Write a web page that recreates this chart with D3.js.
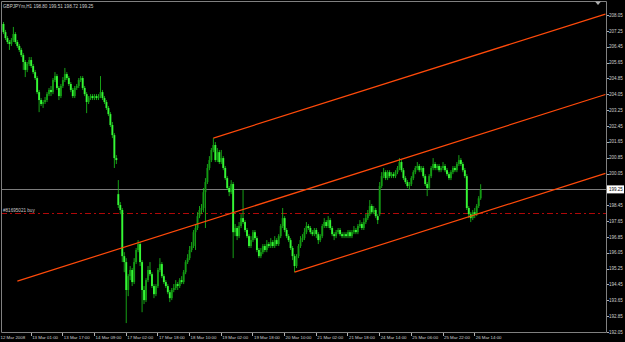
<!DOCTYPE html>
<html>
<head>
<meta charset="utf-8">
<script src="https://cdn.jsdelivr.net/npm/d3@7"></script>
<style>
  html, body { margin: 0; padding: 0; background: #000; }
  svg { display: block; }
  text { font-family: "Liberation Sans", Arial, sans-serif; }
</style>
</head>
<body>
<div id="chart"></div>
<script>
// GBPJPYm H1 candles with a price channel, 12 - 26 Mar 2008

const chartTitle = "GBPJPYm,H1  198.80 199.51 198.72 199.25";

// hourly bars
const opens = [
  207.30, 207.60, 207.19, 206.89, 206.69, 206.59, 206.79, 207.09, 206.69, 206.49,
  206.29, 206.03, 205.68, 205.28, 205.58, 205.78, 205.48, 205.17, 204.87, 204.16,
  203.76, 203.56, 203.66, 203.76, 204.06, 204.27, 204.16, 204.77, 204.97, 204.37,
  203.96, 204.47, 204.77, 205.07, 204.87, 204.57, 204.27, 203.96, 204.37, 204.47,
  204.77, 204.87, 204.37, 204.06, 203.66, 203.86, 203.96, 203.86, 203.96, 203.86,
  203.96, 204.16, 203.86, 203.66, 203.36, 203.05, 202.50, 201.99, 200.83, 199.01,
  198.46, 198.21, 195.88, 195.58, 194.17, 194.87, 195.18, 194.57, 195.58, 196.19,
  196.49, 195.58, 194.17, 193.66, 194.67, 195.18, 194.97, 194.37, 193.96, 194.37,
  195.18, 195.48, 194.87, 194.57, 194.37, 194.06, 193.76, 194.17, 194.27, 194.47,
  194.37, 194.67, 194.57, 195.07, 195.58, 195.78, 196.19, 196.39, 197.09, 197.30,
  197.90, 198.21, 198.31, 199.11, 199.62, 200.33, 200.73, 201.24, 201.49, 200.73,
  201.13, 200.63, 200.83, 200.33, 199.82, 199.32, 199.11, 199.52, 197.09, 197.30,
  196.89, 197.40, 197.80, 197.60, 197.20, 196.89, 196.39, 196.69, 197.09, 196.79,
  196.19, 195.88, 196.08, 196.39, 196.19, 196.49, 196.39, 196.59, 196.39, 196.69,
  196.49, 196.89, 197.40, 197.80, 197.20, 196.89, 196.69, 196.29, 195.88, 195.38,
  195.88, 196.39, 196.69, 196.79, 197.09, 197.40, 197.30, 197.09, 196.99, 197.20,
  196.99, 196.69, 196.89, 197.40, 197.60, 197.40, 197.70, 197.30, 196.99, 196.89,
  197.09, 197.20, 196.99, 196.89, 196.99, 196.89, 197.09, 196.89, 197.09, 197.20,
  197.09, 197.40, 197.50, 197.30, 197.60, 197.80, 198.00, 198.41, 198.10, 198.21,
  197.90, 198.00, 199.42, 199.92, 200.12, 199.82, 200.12, 199.92, 200.02, 199.92,
  200.12, 200.33, 200.63, 200.22, 199.82, 199.62, 199.42, 199.52, 199.82, 200.12,
  200.33, 200.43, 200.22, 200.33, 199.92, 199.52, 199.32, 199.92, 200.33, 200.53,
  200.33, 200.43, 200.22, 200.33, 200.43, 200.22, 200.02, 199.82, 200.12, 200.33,
  200.22, 200.53, 200.73, 200.53, 200.22, 199.92, 198.31, 198.00, 197.80, 198.10,
  198.00, 198.41, 198.80
];
const highs = [
  207.90, 207.70, 207.30, 206.99, 206.79, 206.89, 207.45, 207.19, 206.79, 206.59,
  206.39, 206.13, 205.78, 205.68, 205.93, 205.93, 205.58, 205.28, 204.97, 204.27,
  203.86, 203.76, 203.91, 204.16, 204.37, 204.47, 204.87, 205.17, 205.07, 204.47,
  204.57, 204.92, 205.38, 205.17, 204.97, 204.67, 204.37, 204.47, 204.57, 204.87,
  204.97, 204.97, 204.47, 204.16, 203.96, 204.06, 204.06, 204.06, 204.06, 204.06,
  204.97, 204.27, 203.96, 203.76, 203.46, 203.15, 202.65, 202.09, 200.98, 199.72,
  198.61, 198.31, 196.08, 195.78, 194.97, 195.38, 195.28, 195.78, 196.29, 196.69,
  196.59, 195.68, 194.37, 194.77, 195.38, 195.58, 195.07, 194.47, 194.47, 195.28,
  195.78, 195.58, 194.97, 194.67, 194.47, 194.17, 194.27, 194.47, 194.67, 194.57,
  194.77, 194.87, 195.18, 195.68, 195.98, 196.39, 196.59, 197.20, 197.50, 198.10,
  198.41, 198.51, 199.32, 199.82, 200.53, 200.93, 201.34, 201.84, 201.64, 201.34,
  201.24, 201.24, 200.93, 200.43, 199.92, 199.42, 199.72, 199.62, 197.50, 197.40,
  197.60, 198.00, 199.22, 197.70, 197.30, 196.99, 196.89, 197.20, 197.20, 196.89,
  196.29, 196.29, 196.49, 196.49, 196.69, 196.59, 196.79, 196.69, 196.89, 196.79,
  196.99, 197.50, 198.31, 197.90, 197.30, 196.99, 196.79, 196.39, 195.98, 195.98,
  196.49, 196.89, 196.99, 197.30, 197.60, 197.50, 197.40, 197.20, 197.30, 197.30,
  197.09, 196.99, 197.50, 197.80, 197.70, 197.90, 197.80, 197.40, 197.09, 197.20,
  197.30, 197.30, 197.09, 197.09, 197.09, 197.20, 197.20, 197.20, 197.40, 197.30,
  197.50, 197.70, 197.60, 197.80, 198.00, 198.21, 198.71, 198.51, 198.41, 198.31,
  198.00, 199.62, 200.12, 200.33, 200.22, 200.22, 200.22, 200.12, 200.12, 200.22,
  200.43, 200.83, 200.73, 200.33, 199.92, 199.72, 199.62, 199.92, 200.22, 200.43,
  200.63, 200.53, 200.43, 200.43, 200.02, 199.62, 200.02, 200.43, 200.83, 200.63,
  200.53, 200.53, 200.43, 200.63, 200.53, 200.33, 200.12, 200.22, 200.43, 200.43,
  200.63, 200.98, 200.83, 200.63, 200.33, 200.02, 198.41, 198.10, 198.21, 198.31,
  198.51, 198.91, 199.51
];
const lows = [
  207.19, 207.09, 206.79, 206.59, 206.29, 206.49, 206.69, 206.59, 206.39, 206.18,
  205.93, 205.28, 204.92, 205.17, 205.48, 205.38, 205.07, 204.77, 204.06, 203.15,
  203.46, 203.36, 203.56, 203.66, 203.96, 203.96, 204.06, 204.67, 204.27, 203.76,
  203.86, 204.37, 204.67, 204.77, 204.47, 204.16, 203.86, 203.86, 204.27, 204.37,
  204.67, 204.27, 203.96, 203.10, 203.56, 203.76, 203.76, 203.76, 203.76, 203.76,
  203.86, 203.76, 203.56, 203.26, 202.95, 202.40, 201.84, 200.33, 200.53, 198.31,
  198.00, 195.58, 195.07, 192.50, 193.86, 194.67, 194.37, 194.47, 195.48, 196.08,
  195.38, 193.05, 193.46, 193.56, 194.57, 194.87, 194.27, 193.76, 193.86, 194.27,
  195.07, 194.77, 194.47, 194.27, 193.96, 193.56, 193.66, 194.06, 194.17, 194.17,
  194.27, 194.47, 194.47, 194.97, 195.48, 195.68, 196.08, 196.29, 196.19, 197.20,
  197.80, 198.00, 198.10, 197.30, 199.52, 200.22, 200.63, 201.13, 200.63, 200.63,
  200.53, 200.53, 200.22, 199.72, 199.22, 198.91, 199.01, 195.78, 196.89, 196.69,
  196.79, 197.30, 197.50, 197.09, 196.79, 196.29, 196.29, 196.59, 196.69, 196.08,
  195.78, 195.78, 195.98, 196.08, 196.08, 196.29, 196.29, 196.29, 196.29, 196.39,
  196.39, 196.79, 197.30, 197.09, 196.79, 196.59, 196.19, 195.68, 195.07, 195.28,
  195.78, 196.29, 196.59, 196.69, 196.99, 197.20, 196.99, 196.89, 196.89, 196.79,
  196.49, 196.59, 196.79, 197.30, 197.30, 197.30, 197.20, 196.89, 196.69, 196.79,
  196.99, 196.89, 196.79, 196.79, 196.79, 196.79, 196.79, 196.79, 196.99, 196.99,
  196.99, 197.30, 197.20, 197.20, 197.50, 197.70, 197.90, 198.00, 198.00, 197.80,
  197.50, 197.90, 199.32, 199.82, 199.72, 199.72, 199.82, 199.82, 199.82, 199.82,
  200.02, 200.22, 200.12, 199.72, 199.52, 199.32, 199.22, 199.42, 199.72, 200.02,
  200.22, 200.12, 200.12, 199.82, 199.42, 198.91, 199.22, 199.82, 200.22, 200.22,
  200.22, 200.12, 200.12, 200.22, 200.12, 199.92, 199.72, 199.72, 200.02, 200.12,
  200.12, 200.43, 200.43, 200.12, 199.82, 198.21, 197.80, 197.60, 197.70, 197.80,
  197.90, 198.31, 198.72
];
const closes = [
  207.60, 207.19, 206.89, 206.69, 206.59, 206.79, 207.09, 206.69, 206.49, 206.29,
  206.03, 205.68, 205.28, 205.58, 205.78, 205.48, 205.17, 204.87, 204.16, 203.76,
  203.56, 203.66, 203.76, 204.06, 204.27, 204.16, 204.77, 204.97, 204.37, 203.96,
  204.47, 204.77, 205.07, 204.87, 204.57, 204.27, 203.96, 204.37, 204.47, 204.77,
  204.87, 204.37, 204.06, 203.66, 203.86, 203.96, 203.86, 203.96, 203.86, 203.96,
  204.16, 203.86, 203.66, 203.36, 203.05, 202.50, 201.99, 200.83, 200.73, 198.46,
  198.21, 195.88, 195.58, 194.17, 194.87, 195.18, 194.57, 195.58, 196.19, 196.49,
  195.58, 194.17, 193.66, 194.67, 195.18, 194.97, 194.37, 193.96, 194.37, 195.18,
  195.48, 194.87, 194.57, 194.37, 194.06, 193.76, 194.17, 194.27, 194.47, 194.37,
  194.67, 194.57, 195.07, 195.58, 195.78, 196.19, 196.39, 197.09, 197.30, 197.90,
  198.21, 198.31, 199.11, 199.62, 200.33, 200.73, 201.24, 201.49, 200.73, 201.13,
  200.63, 200.83, 200.33, 199.82, 199.32, 199.11, 199.52, 197.09, 197.30, 196.89,
  197.40, 197.80, 197.60, 197.20, 196.89, 196.39, 196.69, 197.09, 196.79, 196.19,
  195.88, 196.08, 196.39, 196.19, 196.49, 196.39, 196.59, 196.39, 196.69, 196.49,
  196.89, 197.40, 197.80, 197.20, 196.89, 196.69, 196.29, 195.88, 195.38, 195.88,
  196.39, 196.69, 196.79, 197.09, 197.40, 197.30, 197.09, 196.99, 197.20, 196.99,
  196.69, 196.89, 197.40, 197.60, 197.40, 197.70, 197.30, 196.99, 196.89, 197.09,
  197.20, 196.99, 196.89, 196.99, 196.89, 197.09, 196.89, 197.09, 197.20, 197.09,
  197.40, 197.50, 197.30, 197.60, 197.80, 198.00, 198.41, 198.10, 198.21, 197.90,
  197.70, 199.42, 199.92, 200.12, 199.82, 200.12, 199.92, 200.02, 199.92, 200.12,
  200.33, 200.63, 200.22, 199.82, 199.62, 199.42, 199.52, 199.82, 200.12, 200.33,
  200.43, 200.22, 200.33, 199.92, 199.52, 199.32, 199.92, 200.33, 200.53, 200.33,
  200.43, 200.22, 200.33, 200.43, 200.22, 200.02, 199.82, 200.12, 200.33, 200.22,
  200.53, 200.73, 200.53, 200.22, 199.92, 198.31, 198.00, 197.80, 198.10, 198.00,
  198.41, 198.80, 199.25
];

// time axis: bar index of each label
const timeTickBars = [0, 16, 32, 48, 64, 80, 96, 112, 128, 144, 160, 176, 192, 208, 224, 240];
const timeTickLabels = [
  "12 Mar 2008", "13 Mar 01:00", "13 Mar 17:00", "14 Mar 09:00", "17 Mar 02:00",
  "17 Mar 18:00", "18 Mar 10:00", "19 Mar 02:00", "19 Mar 18:00", "20 Mar 10:00",
  "21 Mar 02:00", "21 Mar 18:00", "24 Mar 14:00", "25 Mar 06:00", "25 Mar 22:00",
  "26 Mar 14:00"
];

const priceTicks = [
  192.05, 192.85, 193.65, 194.45, 195.25, 196.05, 196.85, 197.65, 198.45, 199.25, 200.05,
  200.85, 201.65, 202.45, 203.25, 204.05, 204.85, 205.65, 206.45, 207.25, 208.05
];

const lastPrice = 199.25;
const orderPrice = 198.05;
const orderLabel = "#81695021 buy";

// channel lines: upper, middle, lower
const channelStartBar = [107, 8, 148];
const channelStartPrice = [201.84, 194.62, 195.07];
const channelEndBar = [305, 305, 305];
const channelEndPrice = [208.10, 204.04, 200.06];

const width = 625;
const height = 342;
const plot = { left: 1, top: 1, right: 606, bottom: 332 };

const svg = d3.select("#chart")
  .append("svg")
  .attr("width", width)
  .attr("height", height);

svg.append("rect")
  .attr("width", width)
  .attr("height", height)
  .attr("fill", "#000");

const x = d3.scaleLinear().domain([0, 305]).range([1.5, 605.4]);
const y = d3.scaleLinear().domain([192.05, 208.76]).range([plot.bottom, plot.top]);

svg.append("clipPath")
  .attr("id", "plotClip")
  .append("rect")
  .attr("x", plot.left)
  .attr("y", plot.top)
  .attr("width", plot.right - plot.left)
  .attr("height", plot.bottom - plot.top);

const g = svg.append("g").attr("clip-path", "url(#plotClip)");

// last price line
g.append("line")
  .attr("x1", plot.left).attr("x2", plot.right)
  .attr("y1", Math.round(y(lastPrice)) + 0.5).attr("y2", Math.round(y(lastPrice)) + 0.5)
  .attr("stroke", "#7c7c7c")
  .attr("stroke-width", 1);

// open order line
g.append("line")
  .attr("x1", plot.left).attr("x2", plot.right)
  .attr("y1", Math.round(y(orderPrice)) + 0.5).attr("y2", Math.round(y(orderPrice)) + 0.5)
  .attr("stroke", "#b00808")
  .attr("stroke-width", 1)
  .attr("stroke-dasharray", "6,3,2,3");

g.append("text")
  .attr("x", 3)
  .attr("y", y(orderPrice) - 1.5)
  .attr("fill", "#c8c8c8")
  .attr("font-size", 4.6)
  .text(orderLabel);

// candles
const bars = d3.range(closes.length).map(i => ({
  i: i, o: opens[i], h: highs[i], l: lows[i], c: closes[i]
}));

g.selectAll("line.wick")
  .data(bars)
  .enter()
  .append("line")
  .attr("class", "wick")
  .attr("x1", d => x(d.i)).attr("x2", d => x(d.i))
  .attr("y1", d => y(d.h)).attr("y2", d => y(d.l))
  .attr("stroke", "#1cc81c")
  .attr("stroke-width", 0.8);

g.selectAll("rect.body")
  .data(bars)
  .enter()
  .append("rect")
  .attr("class", "body")
  .attr("x", d => x(d.i) - 0.95)
  .attr("width", 1.9)
  .attr("y", d => y(Math.max(d.o, d.c)))
  .attr("height", d => Math.max(0.8, Math.abs(y(d.o) - y(d.c))))
  .attr("fill", d => d.c >= d.o ? "#139a13" : "#36f736");

// channel
g.selectAll("line.channel")
  .data(channelStartBar)
  .enter()
  .append("line")
  .attr("class", "channel")
  .attr("x1", (d, k) => x(channelStartBar[k]))
  .attr("y1", (d, k) => y(channelStartPrice[k]))
  .attr("x2", (d, k) => x(channelEndBar[k]))
  .attr("y2", (d, k) => y(channelEndPrice[k]))
  .attr("stroke", "#ff4a0a")
  .attr("stroke-width", 1.2);

// frame
svg.append("path")
  .attr("d", `M${plot.left + 0.5},${plot.bottom + 0.5}V${plot.top + 0.5}H${plot.right + 0.5}V${plot.bottom + 0.5}H${plot.left + 0.5}`)
  .attr("fill", "none")
  .attr("stroke", "#808080")
  .attr("stroke-width", 1);

// chart shift marker
svg.append("path")
  .attr("d", "M595,1.5L601,1.5L598,5Z")
  .attr("fill", "#b0b0b0");

// title
svg.append("text")
  .attr("x", 3)
  .attr("y", 7.5)
  .attr("fill", "#d0d0d0")
  .attr("font-size", 4.6)
  .text(chartTitle);

// price axis
const priceAxis = svg.append("g");
priceAxis.selectAll("line")
  .data(priceTicks)
  .enter()
  .append("line")
  .attr("x1", plot.right + 1).attr("x2", plot.right + 3)
  .attr("y1", d => Math.round(y(d)) + 0.5).attr("y2", d => Math.round(y(d)) + 0.5)
  .attr("stroke", "#b0b0b0");
priceAxis.selectAll("text")
  .data(priceTicks)
  .enter()
  .append("text")
  .attr("x", plot.right + 3)
  .attr("y", d => y(d) + 1.6)
  .attr("fill", "#d0d0d0")
  .attr("font-size", 4.5)
  .text(d => d.toFixed(2));

// last price box
svg.append("rect")
  .attr("x", plot.right + 1)
  .attr("y", y(lastPrice) - 4)
  .attr("width", 17)
  .attr("height", 8)
  .attr("fill", "#ffffff");
svg.append("text")
  .attr("x", plot.right + 3)
  .attr("y", y(lastPrice) + 1.6)
  .attr("fill", "#000")
  .attr("font-size", 4.5)
  .text(lastPrice.toFixed(2));

// time axis
const timeAxis = svg.append("g");
timeAxis.selectAll("line")
  .data(timeTickBars)
  .enter()
  .append("line")
  .attr("x1", d => Math.round(x(d) - 2.5) + 0.5).attr("x2", d => Math.round(x(d) - 2.5) + 0.5)
  .attr("y1", plot.bottom + 1).attr("y2", plot.bottom + 4)
  .attr("stroke", "#b0b0b0");
timeAxis.selectAll("text")
  .data(timeTickBars)
  .enter()
  .append("text")
  .attr("x", d => x(d) - 1)
  .attr("y", 339)
  .attr("fill", "#d0d0d0")
  .attr("font-size", 4.4)
  .text((d, k) => timeTickLabels[k]);
</script>
</body>
</html>
